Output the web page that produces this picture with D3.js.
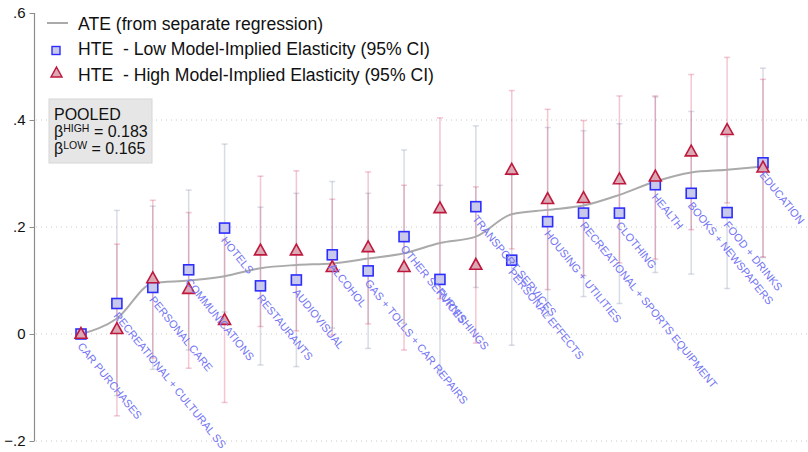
<!DOCTYPE html>
<html>
<head>
<meta charset="utf-8">
<script src="https://cdn.jsdelivr.net/npm/d3@7"></script>
<style>
  body { margin: 0; background: #fff; }
  svg { font-family: "Liberation Sans", Arial, sans-serif; }
</style>
</head>
<body>
<svg id="chart" width="808" height="452"></svg>
<script>
// categories, ordered as on the x axis
var categories = ['CAR PURCHASES', 'RECREATIONAL + CULTURAL SS', 'PERSONAL CARE', 'COMMUNICATIONS',
  'HOTELS', 'RESTAURANTS', 'AUDIOVISUAL', 'ALCOHOL', 'GAS + TOLLS + CAR REPAIRS', 'OTHER SERVICES',
  'FURNISHINGS', 'TRANSPORT SERVICES', 'PERSONAL EFFECTS', 'HOUSING + UTILITIES',
  'RECREATIONAL + SPORTS EQUIPMENT', 'CLOTHING', 'HEALTH', 'BOOKS + NEWSPAPERS', 'FOOD + DRINKS', 'EDUCATION'];

// low model-implied elasticity: point estimate and 95% CI
var lowEst = [0, 0.057, 0.087, 0.120, 0.198, 0.090, 0.101, 0.148, 0.118, 0.182, 0.102, 0.238, 0.138, 0.210, 0.226, 0.226, 0.279, 0.263, 0.227, 0.320];
var lowLo = [-0.006, -0.115, -0.066, -0.030, 0.041, -0.058, -0.061, 0.011, -0.027, 0.020, -0.074, 0.087, -0.021, 0.034, 0.070, 0.057, 0.115, 0.112, 0.085, 0.143];
var lowHi = [0.006, 0.231, 0.239, 0.269, 0.355, 0.237, 0.263, 0.285, 0.263, 0.344, 0.278, 0.389, 0.297, 0.386, 0.380, 0.393, 0.443, 0.416, 0.369, 0.497];

// high model-implied elasticity: point estimate and 95% CI
var highEst = [0, 0.009, 0.104, 0.084, 0.026, 0.156, 0.156, 0.125, 0.162, 0.125, 0.235, 0.129, 0.307, 0.252, 0.254, 0.289, 0.294, 0.341, 0.381, 0.311];
var highLo = [-0.006, -0.153, -0.045, -0.064, -0.128, 0.014, 0.006, -0.002, 0.019, -0.030, 0.066, -0.017, 0.159, 0.083, 0.109, 0.133, 0.140, 0.195, 0.245, 0.144];
var highHi = [0.006, 0.168, 0.250, 0.227, 0.177, 0.295, 0.305, 0.252, 0.303, 0.278, 0.404, 0.275, 0.455, 0.420, 0.399, 0.445, 0.445, 0.485, 0.517, 0.476];

// ATE from separate regression
var ate = [0, 0.029, 0.095, 0.100, 0.108, 0.123, 0.129, 0.132, 0.141, 0.151, 0.170, 0.182, 0.224, 0.232, 0.240, 0.260, 0.285, 0.302, 0.307, 0.313];

var yTicks = [-0.2, 0, 0.2, 0.4, 0.6];
var gridTicks = [-0.2, 0, 0.2, 0.4];
var legendLabels = ['ATE (from separate regression)',
  'HTE\u00a0 - Low Model-Implied Elasticity (95% CI)',
  'HTE\u00a0 - High Model-Implied Elasticity (95% CI)'];

var svg = d3.select('#chart');

var x = d3.scalePoint().domain(categories).range([81, 763]);
var y = d3.scaleLinear().domain([-0.2, 0.6]).range([441, 13]);

function fmt(v) {
  if (v === 0) return '0';
  return d3.format('.1f')(v).replace('0.', '.');
}

// gridlines
svg.append('g')
  .selectAll('line')
  .data(gridTicks)
  .enter()
  .append('line')
  .attr('x1', 36)
  .attr('x2', 808)
  .attr('y1', d => y(d))
  .attr('y2', d => y(d))
  .style('stroke', '#c8c8c8')
  .style('stroke-width', 1)
  .style('stroke-dasharray', '1,4');

// y axis
var yAxis = d3.axisLeft(y).tickValues(yTicks).tickFormat(fmt).tickSize(5).tickPadding(4);
var ag = svg.append('g').attr('transform', 'translate(34.5,0)').call(yAxis);
ag.select('.domain').style('stroke', '#8c8c8c').style('stroke-width', 1.2).attr('d', `M0,${y(0.6)}V${y(-0.2)}`);
ag.selectAll('.tick line').style('stroke', '#8c8c8c');
ag.selectAll('.tick text').style('font-size', '15px').style('fill', '#111').style('font-family', '"Liberation Sans", Arial, sans-serif');

var data = categories.map((c, i) => ({
  cat: c,
  low: lowEst[i], lowLo: lowLo[i], lowHi: lowHi[i],
  high: highEst[i], highLo: highLo[i], highHi: highHi[i],
  ate: ate[i],
}));

function drawCI(cls, lo, hi, color, opacity) {
  var g = svg.append('g').attr('class', cls).style('stroke', color).style('stroke-opacity', opacity).style('stroke-width', 1.5);
  g.selectAll('line.v').data(data).enter().append('line')
    .attr('class', 'v')
    .attr('x1', d => x(d.cat)).attr('x2', d => x(d.cat))
    .attr('y1', d => y(d[lo])).attr('y2', d => y(d[hi]));
  [lo, hi].forEach(k => {
    g.selectAll('line.' + k).data(data).enter().append('line')
      .attr('class', k)
      .attr('x1', d => x(d.cat) - 3).attr('x2', d => x(d.cat) + 3)
      .attr('y1', d => y(d[k])).attr('y2', d => y(d[k]));
  });
}

drawCI('ci-low', 'lowLo', 'lowHi', '#7d8ca8', 0.3);
drawCI('ci-high', 'highLo', 'highHi', '#d0204a', 0.25);

// ATE line
var line = d3.line().x(d => x(d.cat)).y(d => y(d.ate)).curve(d3.curveMonotoneX);
svg.append('path')
  .datum(data)
  .attr('d', line)
  .style('fill', 'none')
  .style('stroke', '#aaaaaa')
  .style('stroke-width', 2);

// markers
var sq = 10;
svg.append('g').selectAll('rect')
  .data(data)
  .enter()
  .append('rect')
  .attr('x', d => x(d.cat) - sq / 2)
  .attr('y', d => y(d.low) - sq / 2)
  .attr('width', sq)
  .attr('height', sq)
  .style('fill', '#c9c9ec')
  .style('stroke', '#2d2dff')
  .style('stroke-width', 1.6);

function tri(cx, cy, w) {
  var h = w * 0.9;
  return `M${cx},${cy - h * 0.6}L${cx + w / 2},${cy + h * 0.4}L${cx - w / 2},${cy + h * 0.4}Z`;
}

svg.append('g').selectAll('path')
  .data(data)
  .enter()
  .append('path')
  .attr('d', d => tri(x(d.cat), y(d.high), 12))
  .style('fill', '#d9a9b6')
  .style('stroke', '#c0183c')
  .style('stroke-width', 1.6)
  .style('stroke-linejoin', 'miter');

// category labels
svg.append('g').selectAll('text')
  .data(data)
  .enter()
  .append('text')
  .attr('transform', d => `translate(${x(d.cat) - 1},${y(d.low) + 10}) rotate(51)`)
  .attr('dy', '0.35em')
  .style('font-size', '11px')
  .style('fill', '#7373f4')
  .text(d => d.cat);

// legend
var lg = svg.append('g');
lg.append('line').attr('x1', 47).attr('x2', 68).attr('y1', 23).attr('y2', 23)
  .style('stroke', '#aaaaaa').style('stroke-width', 2);
lg.append('rect').attr('x', 52).attr('y', 46.5).attr('width', 8).attr('height', 8)
  .style('fill', '#c9c9ec').style('stroke', '#2d2dff').style('stroke-width', 1.4);
lg.append('path').attr('d', tri(56.5, 73, 11))
  .style('fill', '#d9a9b6').style('stroke', '#c0183c').style('stroke-width', 1.4);
lg.selectAll('text')
  .data(legendLabels)
  .enter()
  .append('text')
  .attr('x', 78)
  .attr('y', (d, i) => 29.5 + i * 25.5)
  .style('font-size', '17.6px')
  .style('fill', '#111')
  .text(d => d);

// pooled box
var pb = svg.append('g');
pb.append('rect').attr('x', 49).attr('y', 99).attr('width', 103).attr('height', 64)
  .style('fill', '#e6e6e6').style('stroke', '#d6d6d6').style('stroke-width', 1);
pb.append('text').attr('x', 54).attr('y', 120).style('font-size', '16px').style('fill', '#111').text('POOLED');
[['HIGH', '0.183', 137], ['LOW', '0.165', 153.5]].forEach(r => {
  var t = pb.append('text').attr('x', 54).attr('y', r[2]).style('font-size', '16px').style('fill', '#111');
  t.append('tspan').text('\u03b2');
  t.append('tspan').attr('dy', -5).style('font-size', '10.5px').text(r[0]);
  t.append('tspan').attr('dy', 5).text(' = ' + r[1]);
});
</script>
</body>
</html>
